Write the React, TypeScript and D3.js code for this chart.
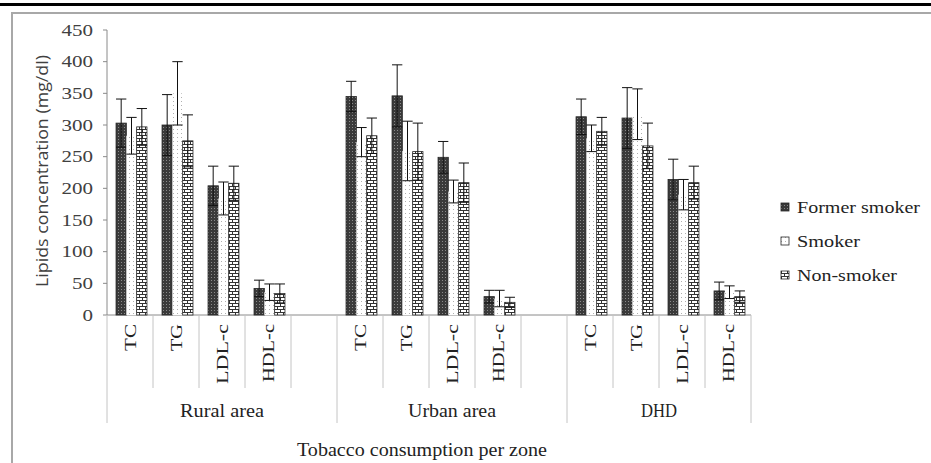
import React from 'react';
import * as d3 from 'd3';

const groups = ['Rural area', 'Urban area', 'DHD'];
const lipids = ['TC', 'TG', 'LDL-c', 'HDL-c'];
const series = ['Former smoker', 'Smoker', 'Non-smoker'];
const yTicks = [0, 50, 100, 150, 200, 250, 300, 350, 400, 450];

// values per series, order: group x lipid
const formerValues = [303, 300, 204, 42, 345, 346, 249, 29, 313, 311, 214, 38];
const smokerValues = [283, 350, 184, 36, 273, 259, 195, 26, 279, 317, 190, 36];
const nonValues = [297, 275, 208, 34, 283, 258, 209, 20, 290, 267, 209, 29];
const formerErr = [38, 48, 31, 13, 24, 49, 25, 10, 28, 48, 32, 14];
const smokerErr = [29, 50, 26, 13, 23, 47, 18, 13, 21, 40, 24, 10];
const nonErr = [29, 41, 27, 15, 28, 45, 31, 8, 22, 36, 26, 9];

const W = 931, H = 463;
const serif = '"Liberation Serif", "Times New Roman", serif';
const sans = '"Open Sans", "Noto Sans", sans-serif';

// text widths (it is stretched a bit)
const labelLen: Record<string, number> = { 'TC': 27, 'TG': 27, 'LDL-c': 60, 'HDL-c': 58 };
const groupLen: Record<string, number> = { 'Rural area': 84, 'Urban area': 88, 'DHD': 36 };
const legendLen: Record<string, number> = { 'Former smoker': 123, 'Smoker': 63, 'Non-smoker': 100 };

export default function App() {
  // slots: 4 lipids per group, one empty slot between groups
  const slots: string[] = [];
  groups.forEach((g, gi) => {
    lipids.forEach((l, li) => slots.push(gi + '-' + li));
    if (gi < groups.length - 1) slots.push('gap' + gi);
  });

  const x = d3.scaleBand().domain(slots).range([107, 751]);
  const inner = d3.scaleBand().domain(series).range([1.5, x.bandwidth() + 1.5]).paddingOuter(0.73);
  const y = d3.scaleLinear().domain([0, 450]).range([315, 30]);

  const vals = [formerValues, smokerValues, nonValues];
  const errs = [formerErr, smokerErr, nonErr];
  const fills = ['url(#pFormer)', 'url(#pSmoker)', 'url(#pNon)'];
  const strokes = ['#262626', 'none', '#262626'];

  const bars: any[] = [];
  groups.forEach((g, gi) => {
    lipids.forEach((l, li) => {
      const idx = gi * lipids.length + li;
      const x0 = x(gi + '-' + li) as number;
      series.forEach((s, si) => {
        const v = vals[si][idx];
        const e = errs[si][idx];
        const bx = x0 + (inner(s) as number);
        const bw = inner.bandwidth();
        const cx = bx + bw / 2;
        bars.push(
          <g key={idx + '-' + si}>
            <rect x={bx} y={y(v)} width={bw} height={y(0) - y(v)} fill={fills[si]}
                  stroke={strokes[si]} strokeWidth={0.8} />
            <line x1={cx} x2={cx} y1={y(v - e)} y2={y(v + e)} stroke="#111" strokeWidth={1} />
            <line x1={cx - bw / 2} x2={cx + bw / 2} y1={y(v + e)} y2={y(v + e)} stroke="#111" strokeWidth={1} />
            <line x1={cx - bw / 2} x2={cx + bw / 2} y1={y(v - e)} y2={y(v - e)} stroke="#111" strokeWidth={1} />
          </g>
        );
      });
    });
  });

  // category separator lines
  const groupEdges = [107, x('1-0') as number, x('2-0') as number, 751];
  const shortLines: number[] = [];
  slots.forEach((s, i) => {
    if (i === 0) return;
    const pos = x(s) as number;
    if (!groupEdges.some(ge => Math.abs(ge - pos) < 1)) shortLines.push(pos);
  });

  return (
    <svg width={W} height={H} style={{ position: 'absolute', left: 0, top: 0, background: '#fff' }}>
      <defs>
        <pattern id="pFormer" width="3" height="3" patternUnits="userSpaceOnUse">
          <rect width="3" height="3" fill="#3a3a3a" />
          <rect x="1" y="1" width="1" height="1" fill="#8a8a8a" />
        </pattern>
        <pattern id="pSmoker" width="4" height="4" patternUnits="userSpaceOnUse">
          <rect width="4" height="4" fill="#fff" />
          <rect x="1" y="1" width="1" height="1" fill="#b0b0b0" />
        </pattern>
        <pattern id="pNon" width="6" height="6" patternUnits="userSpaceOnUse">
          <rect width="6" height="6" fill="#fff" />
          <line x1="0" x2="6" y1="0.5" y2="0.5" stroke="#333" strokeWidth="1" />
          <line x1="0" x2="6" y1="3.5" y2="3.5" stroke="#333" strokeWidth="1" />
          <line x1="1.5" x2="1.5" y1="0" y2="3.5" stroke="#333" strokeWidth="1" />
          <line x1="4.5" x2="4.5" y1="3.5" y2="6" stroke="#333" strokeWidth="1" />
        </pattern>
      </defs>

      <rect x={0} y={3} width={W} height={3} fill="#000" />
      <rect x={12} y={13} width={W} height={H} fill="none" stroke="#a8a8a8" strokeWidth={2} />

      {/* y axis */}
      <line x1={107} x2={107} y1={y(450)} y2={y(0)} stroke="#8a8a8a" />
      {yTicks.map(t => (
        <g key={t}>
          <line x1={103} x2={107} y1={y(t)} y2={y(t)} stroke="#8a8a8a" />
          <text x={93} y={y(t)} dy="0.35em" textAnchor="end" fontSize={16}
                textLength={String(t).length * 10.5} lengthAdjust="spacingAndGlyphs"
                fontFamily={serif} fill="#404040">{t}</text>
        </g>
      ))}
      <text transform={`translate(42,${171}) rotate(-90)`} textAnchor="middle" dy="0.35em"
            fontSize={16.5} textLength={232} lengthAdjust="spacingAndGlyphs"
            fontFamily={sans} fill="#404040">
        Lipids concentration (mg/dl)
      </text>

      {/* x axis */}
      <line x1={107} x2={751} y1={y(0)} y2={y(0)} stroke="#8a8a8a" />
      {shortLines.map((p, i) => (
        <line key={'s' + i} x1={p} x2={p} y1={y(0)} y2={388} stroke="#c4c4c4" />
      ))}
      {groupEdges.map((p, i) => (
        <line key={'g' + i} x1={p} x2={p} y1={y(0)} y2={423} stroke="#c4c4c4" />
      ))}
      {groups.map((g, gi) => lipids.map((l, li) => {
        const cx = (x(gi + '-' + li) as number) + x.bandwidth() / 2;
        return (
          <text key={g + l} transform={`translate(${cx},${324}) rotate(-90)`} textAnchor="end"
                dy="0.35em" fontSize={17.5} textLength={labelLen[l]} lengthAdjust="spacingAndGlyphs"
                fontFamily={serif} fill="#222">{l}</text>
        );
      }))}
      {groups.map((g, gi) => {
        const cx = (groupEdges[gi] + groupEdges[gi + 1]) / 2;
        return (
          <text key={g} x={cx} y={417} textAnchor="middle" fontSize={18}
                textLength={groupLen[g]} lengthAdjust="spacingAndGlyphs"
                fontFamily={serif} fill="#222">{g}</text>
        );
      })}
      <text x={422} y={456} textAnchor="middle" fontSize={18} textLength={250}
            lengthAdjust="spacingAndGlyphs" fontFamily={serif} fill="#222">
        Tobacco consumption per zone
      </text>

      {bars}

      {/* legend */}
      {[207, 241, 275].map((ly, si) => {
        const s = series[si];
        return (
          <g key={s}>
            <rect x={781} y={ly - 4} width={8} height={8} fill={fills[si]} stroke="#262626" strokeWidth={0.8} />
            <text x={797} y={ly} dy="0.35em" fontSize={17.5} textLength={legendLen[s]}
                  lengthAdjust="spacingAndGlyphs" fontFamily={serif} fill="#222">{s}</text>
          </g>
        );
      })}
    </svg>
  );
}
